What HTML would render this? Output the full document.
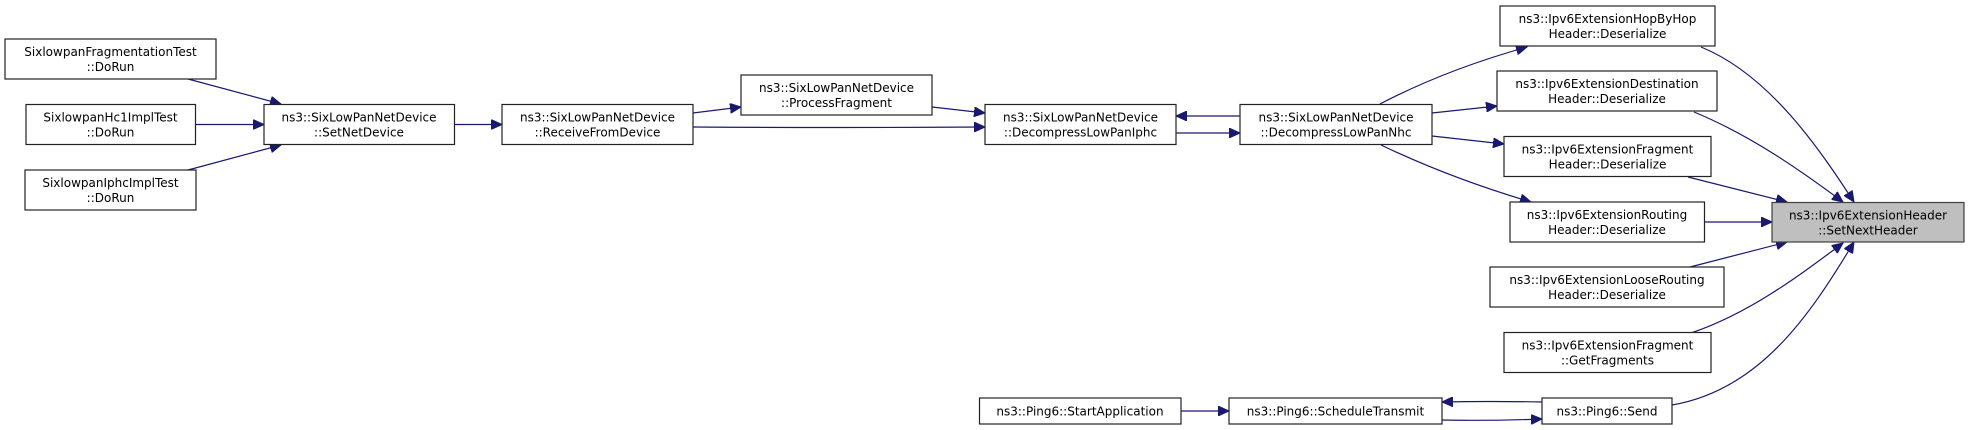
<!DOCTYPE html>
<html><head><meta charset="utf-8"><style>
html,body{margin:0;padding:0;background:#fff;}
svg{display:block;}
text{font-family:"DejaVu Sans","Liberation Sans",sans-serif;font-size:12px;fill:#000;text-anchor:middle;}
rect{fill:#fff;stroke:#222;stroke-width:1.2;}
path{fill:none;stroke:#191970;stroke-width:1.2;}
</style></head><body>
<svg width="1969" height="430" viewBox="0 0 1969 430" xmlns="http://www.w3.org/2000/svg">
<defs>
<marker id="a" markerUnits="userSpaceOnUse" markerWidth="12" markerHeight="10" refX="11" refY="5" orient="auto">
<path d="M0,0 L11,5 L0,10 Z" style="fill:#191970;stroke:#191970;stroke-width:1"/>
</marker>
</defs>

<!-- edges -->
<path d="M188,79 L281,104" marker-end="url(#a)"/>
<path d="M196,124.5 L264,124.5" marker-end="url(#a)"/>
<path d="M188,170 L281,145" marker-end="url(#a)"/>
<path d="M455,124.5 L502,124.5" marker-end="url(#a)"/>
<path d="M693,113 L741,107" marker-end="url(#a)"/>
<path d="M693,127 Q840,128 985,127" marker-end="url(#a)"/>
<path d="M932,107 L985,113" marker-end="url(#a)"/>
<path d="M1240,116 L1176,116" marker-end="url(#a)"/>
<path d="M1176,133 L1240,133" marker-end="url(#a)"/>
<path d="M1380,104 Q1445,70 1527,47" marker-end="url(#a)"/>
<path d="M1432,113 L1497,106" marker-end="url(#a)"/>
<path d="M1432,136 L1504,144" marker-end="url(#a)"/>
<path d="M1381,145 Q1450,178 1531,202" marker-end="url(#a)"/>
<path d="M1701,47 C1770,75 1820,150 1854,202" marker-end="url(#a)"/>
<path d="M1694,112 C1750,135 1800,170 1843,202" marker-end="url(#a)"/>
<path d="M1688,177 L1787,202" marker-end="url(#a)"/>
<path d="M1705,222 L1772,222" marker-end="url(#a)"/>
<path d="M1690,267 L1787,242" marker-end="url(#a)"/>
<path d="M1691,333 C1750,313 1800,275 1843,243" marker-end="url(#a)"/>
<path d="M1672,405 C1760,390 1810,315 1854,242" marker-end="url(#a)"/>
<path d="M1542,402 Q1490,401 1442,402" marker-end="url(#a)"/>
<path d="M1442,420 Q1490,421 1542,419" marker-end="url(#a)"/>
<path d="M1181,411 L1229,411" marker-end="url(#a)"/>

<!-- nodes -->
<rect x="5" y="39" width="211" height="40"/><text x="110.5" y="56">SixlowpanFragmentationTest</text><text x="110.5" y="71">::DoRun</text>
<rect x="26" y="104.5" width="169.5" height="40"/><text x="110.5" y="121.5">SixlowpanHc1ImplTest</text><text x="110.5" y="136.5">::DoRun</text>
<rect x="25" y="170" width="171" height="40"/><text x="110.5" y="187">SixlowpanIphcImplTest</text><text x="110.5" y="202">::DoRun</text>
<rect x="264" y="104.5" width="190.5" height="40"/><text x="359" y="121.5">ns3::SixLowPanNetDevice</text><text x="359" y="136.5">::SetNetDevice</text>
<rect x="502" y="104.5" width="191" height="40"/><text x="597.5" y="121.5">ns3::SixLowPanNetDevice</text><text x="597.5" y="136.5">::ReceiveFromDevice</text>
<rect x="741" y="75" width="191" height="40"/><text x="836.5" y="92">ns3::SixLowPanNetDevice</text><text x="836.5" y="107">::ProcessFragment</text>
<rect x="985" y="104.5" width="191" height="40"/><text x="1080.5" y="121.5">ns3::SixLowPanNetDevice</text><text x="1080.5" y="136.5">::DecompressLowPanIphc</text>
<rect x="1240" y="104.5" width="192" height="40"/><text x="1336" y="121.5">ns3::SixLowPanNetDevice</text><text x="1336" y="136.5">::DecompressLowPanNhc</text>
<rect x="979.5" y="398" width="201.5" height="26"/><text x="1080" y="415.5">ns3::Ping6::StartApplication</text>
<rect x="1229" y="398" width="213" height="26"/><text x="1335.5" y="415.5">ns3::Ping6::ScheduleTransmit</text>
<rect x="1500" y="6" width="215" height="40"/><text x="1607.5" y="23">ns3::Ipv6ExtensionHopByHop</text><text x="1607.5" y="38">Header::Deserialize</text>
<rect x="1497" y="71" width="220" height="40"/><text x="1607" y="88">ns3::Ipv6ExtensionDestination</text><text x="1607" y="103">Header::Deserialize</text>
<rect x="1504" y="136.5" width="207" height="40"/><text x="1607.5" y="153.5">ns3::Ipv6ExtensionFragment</text><text x="1607.5" y="168.5">Header::Deserialize</text>
<rect x="1510" y="202" width="194.5" height="40"/><text x="1607" y="219">ns3::Ipv6ExtensionRouting</text><text x="1607" y="234">Header::Deserialize</text>
<rect x="1490" y="267" width="234" height="40"/><text x="1607" y="284">ns3::Ipv6ExtensionLooseRouting</text><text x="1607" y="299">Header::Deserialize</text>
<rect x="1504" y="332.5" width="207" height="40"/><text x="1607.5" y="349.5">ns3::Ipv6ExtensionFragment</text><text x="1607.5" y="364.5">::GetFragments</text>
<rect x="1542" y="398" width="130" height="26"/><text x="1607" y="415.5">ns3::Ping6::Send</text>
<rect x="1772" y="202.5" width="192" height="39.5" style="fill:#bfbfbf;stroke:#404040"/><text x="1868" y="219.5">ns3::Ipv6ExtensionHeader</text><text x="1868" y="234.5">::SetNextHeader</text>
</svg>
</body></html>
